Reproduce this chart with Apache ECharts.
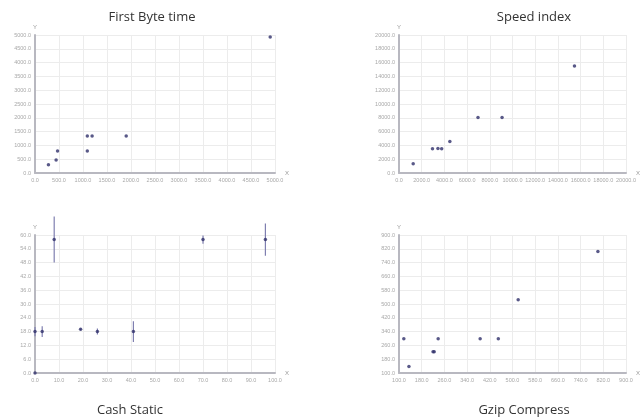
<!DOCTYPE html>
<html>
<head>
<meta charset="utf-8">
<script src="https://cdn.jsdelivr.net/npm/echarts@6/dist/echarts.min.js"></script>
<style>
html,body{margin:0;padding:0;background:#fff;}
#c{width:641px;height:419px;}
</style>
</head>
<body>
<div id="c"></div>
<script>
// First Byte time
var fbX = [280, 440, 470, 1090, 1090, 1190, 1900, 4900];
var fbY = [300, 470, 800, 800, 1340, 1340, 1340, 4930];
// Speed index
var siX = [1250, 2950, 3430, 3760, 4480, 6960, 9080, 15460];
var siY = [1350, 3500, 3560, 3500, 4580, 8050, 8050, 15520];
// Cash Static (with error)
var csX = [0, 0, 3, 8, 19, 26, 41, 70, 96];
var csY = [0, 18, 18, 58, 19, 18, 18, 58, 58];
var csErr = [0, 2, 2.3, 10, 0.4, 1.3, 4.5, 1.8, 7];
// Gzip Compress
var gzX = [117, 135, 220, 224, 238, 386, 450, 520, 801];
var gzY = [299, 137, 223, 223, 299, 299, 299, 524, 805];

var titles = ['First Byte time', 'Speed index', 'Cash Static', 'Gzip Compress'];

function pairs(xs, ys) { return xs.map(function (x, i) { return [x, ys[i]]; }); }

var grids = [
  {left: 35, top: 35, width: 240, height: 138},
  {left: 399, top: 35, width: 239, height: 138},
  {left: 35, top: 235, width: 240, height: 138},
  {left: 399, top: 235, width: 239, height: 138}
];
var xr = [[0, 5000, 500], [0, 20000, 2000], [0, 100, 10], [100, 900, 80]];
var yr = [[0, 5000, 500], [0, 20000, 2000], [0, 60, 6], [100, 900, 80]];

function axisCommon(r, idx, isX) {
  return {
    type: 'value', gridIndex: idx, min: r[0], max: r[1], interval: r[2],
    name: isX ? 'X' : 'Y',
    nameLocation: 'end',
    nameGap: isX ? 10 : 5,
    nameTextStyle: {color: '#999', fontSize: 6, fontFamily: 'Liberation Sans'},
    axisLine: {show: true, onZero: false, lineStyle: {color: '#b8b8c0', width: 2}},
    axisTick: {show: false},
    axisLabel: {color: '#a8a8a8', fontSize: 5.5, fontFamily: 'Liberation Sans', margin: 4,
      showMinLabel: true, showMaxLabel: true, hideOverlap: false,
      formatter: function (v) { return v.toFixed(1); }},
    splitLine: {show: true, lineStyle: {color: '#ececec', width: 1}}
  };
}

var xAxes = [], yAxes = [];
for (var i = 0; i < 4; i++) {
  xAxes.push(axisCommon(xr[i], i, true));
  yAxes.push(axisCommon(yr[i], i, false));
}

var pointStyle = {color: '#30306a'};
var series = [
  {type: 'scatter', xAxisIndex: 0, yAxisIndex: 0, symbolSize: 3.5, itemStyle: pointStyle, data: pairs(fbX, fbY)},
  {type: 'scatter', xAxisIndex: 1, yAxisIndex: 1, symbolSize: 3.5, itemStyle: pointStyle, data: pairs(siX, siY)},
  {type: 'custom', xAxisIndex: 2, yAxisIndex: 2, clip: false,
    data: csX.map(function (x, i) { return [x, csY[i], csErr[i]]; }),
    renderItem: function (params, api) {
      var x = api.value(0), y = api.value(1), e = api.value(2);
      var p1 = api.coord([x, y - e]);
      var p2 = api.coord([x, y + e]);
      return {type: 'line', shape: {x1: p1[0], y1: p1[1], x2: p2[0], y2: p2[1]},
        style: {stroke: '#7f7fb0', lineWidth: 1.2}};
    }, z: 3},
  {type: 'scatter', xAxisIndex: 2, yAxisIndex: 2, symbolSize: 3.5, itemStyle: pointStyle, data: pairs(csX, csY), z: 4},
  {type: 'scatter', xAxisIndex: 3, yAxisIndex: 3, symbolSize: 3.5, itemStyle: pointStyle, data: pairs(gzX, gzY)}
];

var titleOpts = [
  {text: titles[0], left: 147, top: 6},
  {text: titles[1], left: 529, top: 6},
  {text: titles[2], left: 125, top: 399},
  {text: titles[3], left: 519, top: 399}
].map(function (t) {
  return {text: t.text, left: t.left, top: t.top, textAlign: 'center',
    textStyle: {fontSize: 13, fontWeight: 'normal', color: '#333', fontFamily: 'Open Sans'}};
});

var chart = echarts.init(document.getElementById('c'), null, {renderer: 'canvas'});
chart.setOption({
  animation: false,
  backgroundColor: '#fff',
  title: titleOpts,
  grid: grids,
  xAxis: xAxes,
  yAxis: yAxes,
  series: series
});
</script>
</body>
</html>
